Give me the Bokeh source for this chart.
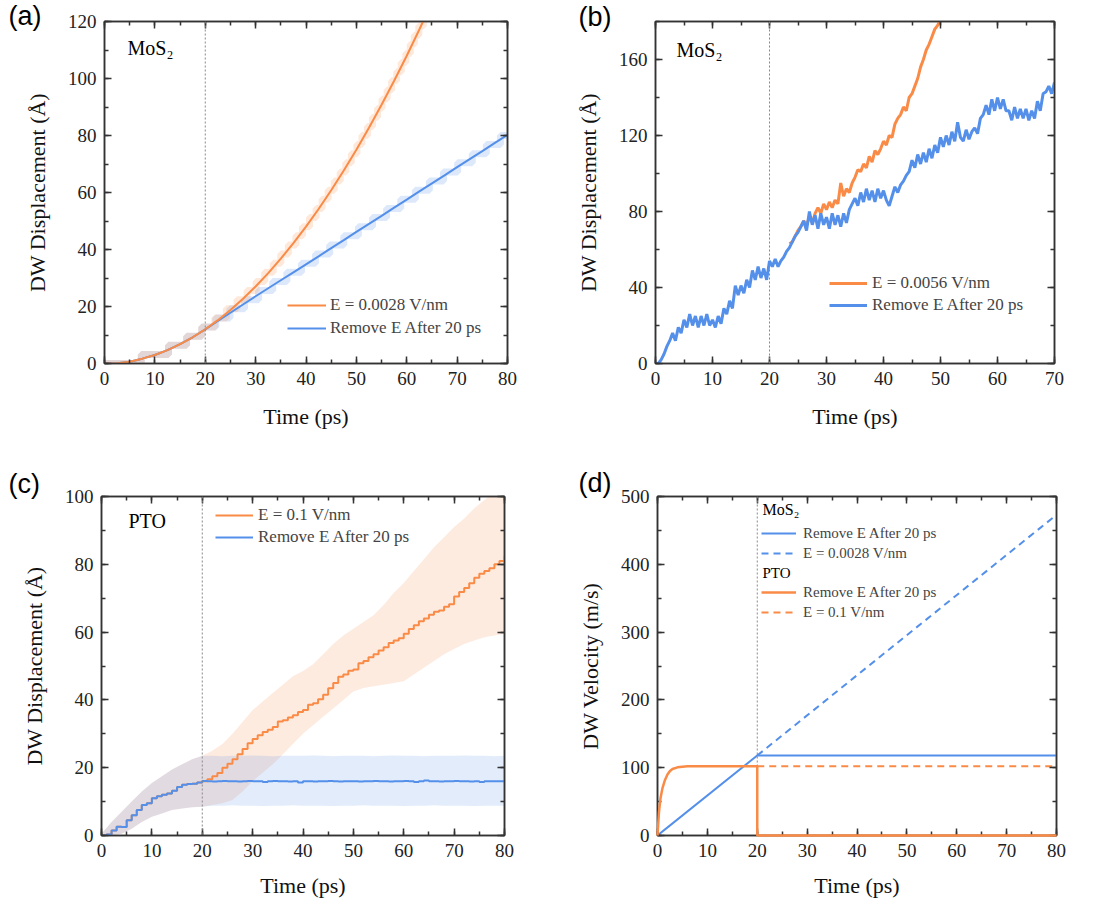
import numpy as np
from bokeh.plotting import figure
from bokeh.models import (Range1d, LinearAxis, SingleIntervalTicker, Span, Label,
                          Legend, LegendItem, CustomJSTickFormatter)
from bokeh.layouts import column, row
from bokeh.embed import file_html
from bokeh.resources import INLINE

ORANGE = "#F98B47"
BLUE = "#5490EA"
SERIF = "Liberation Serif"
SANS = "Liberation Sans"

# ---------------- data: panel (a) MoS2, E = 0.0028 V/nm ----------------
a_time = [0, 2.5, 5, 7.5, 10, 12.5, 15, 17.5, 20, 22.5, 25, 27.5, 30, 32.5, 35,
          37.5, 40, 42.5, 45, 47.5, 50, 52.5, 55, 57.5, 60, 62.5, 65]
a_field = [0, 0.1, 0.6, 1.7, 3.0, 4.7, 6.8, 9.2, 12.0, 15.2, 18.8, 22.7, 27.0, 31.7,
           36.8, 42.2, 48.0, 54.2, 60.8, 67.7, 75.0, 82.7, 90.8, 99.2, 108.0, 117.2, 126.7]
a_time_rm = [0, 2.5, 5, 7.5, 10, 12.5, 15, 17.5, 20, 22.5, 25, 27.5, 30, 32.5, 35,
             37.5, 40, 42.5, 45, 47.5, 50, 52.5, 55, 57.5, 60, 62.5, 65, 67.5, 70,
             72.5, 75, 77.5, 80]
a_remove = [0, 0.1, 0.6, 1.7, 3.0, 4.7, 6.8, 9.2, 12.0, 14.9, 17.8, 20.7, 23.6, 26.4,
            29.2, 32.0, 34.8, 37.6, 40.5, 43.3, 46.2, 49.0, 51.8, 54.7, 57.5, 60.4,
            63.2, 66.0, 68.9, 71.7, 74.5, 77.4, 80.2]
# raw (lattice-stepped) data, shown faded
a_step_t_field = [0, 7.3, 12.7, 16.3, 19.3, 21.9, 24.2, 26.3, 28.3, 30.1, 31.8, 33.5,
                  35.0, 36.5, 38.0, 39.3, 40.7, 42.0, 43.2, 44.4, 45.6, 46.8, 47.9,
                  49.0, 50.1, 51.1, 52.2, 53.2, 54.2, 55.1, 56.1, 57.0, 58.0, 58.9,
                  59.8, 60.7, 61.5, 62.4, 63.3, 64.1]
a_step_y_field = [0, 3.2, 6.4, 9.6, 12.8, 16.0, 19.2, 22.4, 25.6, 28.8, 32.0, 35.2,
                  38.4, 41.6, 44.8, 48.0, 51.2, 54.4, 57.6, 60.8, 64.0, 67.2, 70.4,
                  73.6, 76.8, 80.0, 83.2, 86.4, 89.6, 92.8, 96.0, 99.2, 102.4, 105.6,
                  108.8, 112.0, 115.2, 118.4, 121.6, 124.8]
a_step_t_remove = [0, 7.3, 12.7, 16.3, 19.3, 22.1, 24.9, 27.8, 30.6, 33.4, 36.2, 39.1,
                   41.9, 44.7, 47.5, 50.4, 53.2, 56.0, 58.8, 61.7, 64.5, 67.3, 70.1,
                   73.0, 75.8, 78.6, 80]
a_step_y_remove = [0, 3.2, 6.4, 9.6, 12.8, 16.0, 19.2, 22.4, 25.6, 28.8, 32.0, 35.2,
                   38.4, 41.6, 44.8, 48.0, 51.2, 54.4, 57.6, 60.8, 64.0, 67.2, 70.4,
                   73.6, 76.8, 80.0, 80.0]

# ---------------- data: panel (b) MoS2, E = 0.0056 V/nm ----------------
b_time_rm = list(np.arange(0, 70.001, 0.5))
b_remove = [0, 0, 2, 5, 9, 12, 16, 12, 19, 16,
            23, 19, 26, 20, 25, 19, 25, 20, 26, 20,
            23, 19, 25, 21, 29, 26, 33, 29, 41, 36,
            41, 37, 44, 40, 49, 44, 51, 45, 50, 44,
            54, 51, 55, 51, 54, 56, 59, 61, 64, 67,
            69, 72, 75, 70, 80, 73, 78, 71, 79, 73,
            77, 71, 79, 73, 78, 72, 79, 74, 81, 84,
            87, 83, 90, 85, 92, 86, 91, 85, 92, 87,
            91, 86, 83, 88, 93, 90, 94, 96, 99, 101,
            107, 103, 110, 105, 111, 106, 113, 108, 115, 111,
            119, 114, 120, 115, 122, 117, 127, 119, 117, 123,
            118, 122, 124, 121, 129, 131, 136, 131, 139, 133,
            140, 134, 139, 133, 133, 128, 135, 129, 134, 129,
            134, 128, 133, 129, 138, 133, 142, 143, 146, 142,
            148]
b_time_field = list(np.arange(23.5, 50.001, 0.5))
b_field = [63, 64, 67, 70, 72, 75, 73, 77, 74, 79,
           82, 79, 84, 81, 85, 82, 86, 84, 95, 88,
           92, 90, 95, 98, 102, 101, 105, 103, 109, 106,
           112, 110, 113, 117, 115, 120, 119, 126, 129, 131,
           135, 133, 140, 142, 146, 150, 156, 160, 165, 168,
           172, 176, 178, 181]

# ---------------- data: panel (c) PTO ----------------
c_time = list(range(0, 81))
c_field = [0, 0.3, 1.5, 2.6, 2.5, 4.5, 6.0, 7.5, 9.0, 9.5, 11.0, 11.6, 12.0, 12.4,
           13.2, 14.3, 15.0, 15.2, 15.3, 15.6, 16.0, 16.6, 17.5, 18.4, 20.0, 21.2,
           22.5, 24.0, 25.5, 27.2, 28.5, 29.6, 30.5, 31.2, 32.0, 33.6, 34.0, 34.8,
           35.5, 36.4, 37.0, 38.6, 39.0, 40.2, 41.5, 43.4, 45.0, 46.8, 47.5, 48.6,
           49.0, 50.8, 51.5, 52.6, 53.5, 54.6, 55.5, 56.8, 57.5, 58.2, 59.5, 60.9,
           62.0, 63.2, 64.0, 65.1, 66.0, 66.4, 67.5, 68.2, 70.5, 71.8, 73.0, 74.4,
           76.0, 77.2, 78.0, 78.8, 80.0, 81.0, 82.5]
c_remove = [0, 0.3, 1.5, 2.6, 2.5, 4.5, 6.0, 7.5, 9.0, 9.5, 11.0, 11.6, 12.0, 12.4,
            13.2, 14.3, 15.0, 15.2, 15.3, 15.6, 16.1, 16.0, 15.9, 16.0, 16.1, 16.0,
            16.0, 15.9, 16.0, 16.1, 16.0, 16.0, 15.8, 16.0, 16.1, 16.0, 16.0, 15.9,
            16.0, 15.6, 16.0, 16.0, 15.9, 16.0, 16.0, 16.1, 16.0, 15.9, 16.0, 16.0,
            16.0, 15.9, 16.0, 16.0, 16.1, 16.0, 16.0, 15.9, 16.0, 16.0, 16.1, 16.0,
            15.8, 16.0, 16.2, 16.0, 16.0, 15.9, 16.0, 16.0, 16.1, 16.0, 16.0, 15.9,
            16.0, 15.8, 16.0, 16.0, 16.0, 16.0, 16.0]
c_band_time = list(range(0, 81, 2))
c_field_upper = [0.5, 4, 7, 10, 13, 15.5, 17.5, 19.5, 21, 22.5, 23.5, 25, 27, 30,
                 33.5, 37, 39.5, 42, 44.5, 47, 48.5, 50.5, 53.5, 56.5, 59, 61, 63, 65,
                 68, 71.5, 74.5, 78, 81.5, 85, 88, 91, 93.5, 96.5, 99, 101, 103]
c_field_lower = [0, 0, 0.5, 2, 4, 5.5, 6.5, 7.5, 8, 8.3, 8.5, 9, 9.5, 10.5, 13, 16,
                 18.5, 21, 24, 27, 30, 32.5, 35, 37.5, 40, 42.5, 43.5, 44, 44.5, 45,
                 45.5, 47.5, 49.5, 51.5, 53.5, 55, 56.5, 57.5, 58.5, 59, 59.5]
c_remove_upper = [0.5, 4, 7, 10, 13, 15.5, 17.5, 19.5, 21, 22.5, 23.5, 23.5, 23.4,
                  23.5, 23.5, 23.6, 23.5, 23.4, 23.5, 23.5, 23.5, 23.6, 23.5, 23.4,
                  23.5, 23.5, 23.5, 23.4, 23.5, 23.6, 23.5, 23.5, 23.4, 23.5, 23.5,
                  23.5, 23.6, 23.5, 23.5, 23.4, 23.5]
c_remove_lower = [0, 0, 0.5, 2, 4, 5.5, 6.5, 7.5, 8, 8.3, 8.5, 8.8, 8.8, 8.9, 8.8,
                  8.8, 8.7, 8.8, 8.8, 8.9, 8.8, 8.8, 8.8, 8.7, 8.8, 8.8, 8.9, 8.8,
                  8.8, 8.8, 8.7, 8.8, 8.8, 8.9, 8.8, 8.8, 8.8, 8.7, 8.8, 8.8, 8.8]

# ---------------- data: panel (d) velocities ----------------
d_mos2_rm_t = [0, 20, 20, 80]
d_mos2_rm_v = [0, 118, 118, 118]
d_mos2_field_t = [20, 80]
d_mos2_field_v = [118, 473]
d_pto_rm_t = [0, 0.3, 0.6, 1, 1.5, 2, 2.5, 3, 4, 5, 6, 8, 20, 20, 80]
d_pto_rm_v = [0, 35, 55, 70, 82, 90, 95, 98, 100.5, 101.5, 102, 102, 102, 0, 0]
d_pto_field_t = [20, 80]
d_pto_field_v = [102, 102]

BLANK = CustomJSTickFormatter(code="return ''")


def make_fig(width, height, left, right, top, bottom, xr, yr, xint, yint, ylabel,
             letter, loff, lstand, xstand=16):
    p = figure(width=width, height=height, x_range=Range1d(*xr), y_range=Range1d(*yr),
               output_backend="svg", toolbar_location=None,
               min_border_left=left, min_border_right=right,
               min_border_top=top, min_border_bottom=bottom,
               x_axis_label="Time (ps)", y_axis_label=ylabel)
    p.grid.visible = False
    p.outline_line_color = "#333333"
    p.outline_line_width = 1.5
    p.xaxis.ticker = SingleIntervalTicker(interval=xint, num_minor_ticks=2)
    p.yaxis.ticker = SingleIntervalTicker(interval=yint, num_minor_ticks=2)
    top_ax = LinearAxis(ticker=SingleIntervalTicker(interval=xint, num_minor_ticks=2),
                        formatter=BLANK)
    right_ax = LinearAxis(ticker=SingleIntervalTicker(interval=yint, num_minor_ticks=2),
                          formatter=BLANK)
    p.add_layout(top_ax, "above")
    p.add_layout(right_ax, "right")
    for ax in p.axis:
        ax.major_tick_in = 7
        ax.major_tick_out = 0
        ax.minor_tick_in = 4
        ax.minor_tick_out = 0
        ax.major_tick_line_width = 1.5
        ax.minor_tick_line_width = 1.5
        ax.major_tick_line_color = "#333333"
        ax.minor_tick_line_color = "#333333"
        ax.axis_line_width = 1.5
        ax.axis_line_color = "#333333"
        ax.major_label_text_font = SERIF
        ax.major_label_text_font_size = "19px"
        ax.major_label_text_color = "#222222"
        ax.major_label_standoff = 8
        ax.axis_label_text_font = SERIF
        ax.axis_label_text_font_size = "22px"
        ax.axis_label_text_font_style = "normal"
        ax.axis_label_text_color = "#111111"
    p.yaxis.axis_label_standoff = 15
    p.xaxis.axis_label_standoff = xstand
    for ax in (top_ax, right_ax):
        ax.major_label_standoff = 0
    p.add_layout(Span(location=20, dimension="height", line_color="#888888",
                      line_dash="2 2", line_width=1))
    # panel letter
    p.title.text = letter
    p.title.text_font = SANS
    p.title.text_font_size = "27px"
    p.title.text_font_style = "normal"
    p.title.text_color = "black"
    p.title.align = "left"
    p.title.offset = loff
    p.title.standoff = lstand
    return p


def txt(p, x, y, text, size="17px"):
    p.add_layout(Label(x=x, y=y, x_units="screen", y_units="screen", text=text,
                       text_font=SERIF, text_font_size=size, text_baseline="middle",
                       text_align="left", text_color="black"))


def legend(p, items, loc, glyph_w, spacing, standoff, size="17px"):
    lg = Legend(items=items, location=loc, glyph_width=glyph_w, glyph_height=20,
                label_height=20, spacing=spacing, padding=0, margin=0,
                border_line_color=None, background_fill_alpha=0,
                label_text_font=SERIF, label_text_font_size=size,
                label_standoff=standoff)
    p.add_layout(lg)


# ---------------- panel (a) ----------------
pa = make_fig(552, 452, 104, 45, 21, 89, (0, 80), (0, 120), 10, 20, "DW Displacement (Å)",
              "(a)", -96, -19)
pa.step(a_step_t_remove, a_step_y_remove, mode="after", line_color=BLUE,
        line_width=7, line_alpha=0.2)
pa.step(a_step_t_field, a_step_y_field, mode="after", line_color=ORANGE,
        line_width=7, line_alpha=0.2)
ra_b = pa.line(a_time_rm, a_remove, line_color=BLUE, line_width=2)
ra_o = pa.line(a_time, a_field, line_color=ORANGE, line_width=2)
legend(pa, [LegendItem(label="E = 0.0028 V/nm", renderers=[ra_o]),
            LegendItem(label="Remove E After 20 ps", renderers=[ra_b])],
       (183, 25), 39, 3, 4)
txt(pa, 23, 316, "MoS₂", size="20px")

# ---------------- panel (b) ----------------
pb = make_fig(553, 452, 103, 51, 19, 89, (0, 70), (0, 180), 10, 40, "DW Displacement (Å)",
              "(b)", -77, -21)
rb_o = pb.line(b_time_field, b_field, line_color=ORANGE, line_width=3)
rb_b = pb.line(b_time_rm, b_remove, line_color=BLUE, line_width=3)
legend(pb, [LegendItem(label="E = 0.0056 V/nm", renderers=[rb_o]),
            LegendItem(label="Remove E After 20 ps", renderers=[rb_b])],
       (174, 48), 38, 2, 5)
txt(pb, 21, 314, "MoS₂", size="20px")

# ---------------- panel (c) ----------------
pc = make_fig(552, 454, 101, 48, 41, 71, (0, 80), (0, 100), 10, 20, "DW Displacement (Å)",
              "(c)", -93, -4, xstand=13)
pc.varea(x=c_band_time, y1=c_field_lower, y2=c_field_upper, fill_color=ORANGE,
         fill_alpha=0.17)
pc.varea(x=c_band_time, y1=c_remove_lower, y2=c_remove_upper, fill_color=BLUE,
         fill_alpha=0.17)
rc_o = pc.step(c_time, c_field, mode="after", line_color=ORANGE, line_width=2)
rc_b = pc.step(c_time, c_remove, mode="after", line_color=BLUE, line_width=2)
legend(pc, [LegendItem(label="E = 0.1 V/nm", renderers=[rc_o]),
            LegendItem(label="Remove E After 20 ps", renderers=[rc_b])],
       (114, 288), 38, 2, 5)
txt(pc, 27, 315, "PTO", size="20px")

# ---------------- panel (d) ----------------
pd = make_fig(553, 454, 105, 49, 44, 68, (0, 80), (0, 500), 10, 100, "DW Velocity (m/s)",
              "(d)", -79, -2, xstand=13)
rd_bd = pd.line(d_mos2_field_t, d_mos2_field_v, line_color=BLUE, line_width=2,
                line_dash="7 5")
rd_od = pd.line(d_pto_field_t, d_pto_field_v, line_color=ORANGE, line_width=2,
                line_dash="7 5")
rd_b = pd.line(d_mos2_rm_t, d_mos2_rm_v, line_color=BLUE, line_width=2)
rd_o = pd.line(d_pto_rm_t, d_pto_rm_v, line_color=ORANGE, line_width=2.5)
rd_o.level = "overlay"
legend(pd, [LegendItem(label="Remove E After 20 ps", renderers=[rd_b]),
            LegendItem(label="E = 0.0028 V/nm", renderers=[rd_bd])],
       (104, 272), 35, 0, 7, size="15px")
legend(pd, [LegendItem(label="Remove E After 20 ps", renderers=[rd_o]),
            LegendItem(label="E = 0.1 V/nm", renderers=[rd_od])],
       (104, 213), 35, 0, 7, size="15px")
txt(pd, 105, 326, "MoS₂", size="16px")
txt(pd, 105, 263, "PTO", size="15px")

layout = column(row(pa, pb), row(pc, pd))
open("out.html", "w").write(file_html(layout, INLINE))
